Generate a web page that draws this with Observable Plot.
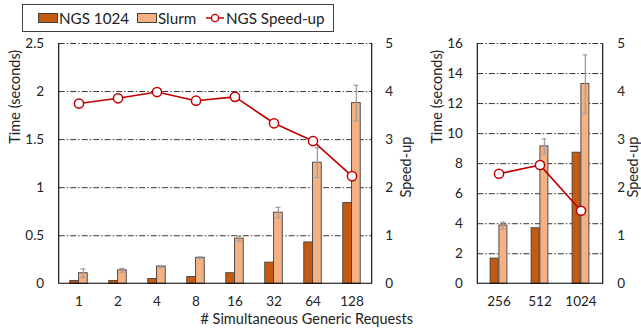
<!DOCTYPE html>
<html><head><meta charset="utf-8">
<script src="https://cdn.jsdelivr.net/npm/d3@7"></script>
<script src="https://cdn.jsdelivr.net/npm/@observablehq/plot@0.6"></script>
<style>
body{margin:0;background:#fff;font-family:Lato,sans-serif;}
#wrap{position:relative;width:641px;height:331px;overflow:hidden;background:#fff;}
#left,#right{position:absolute;top:0;}
#left{left:0}
#right{left:420px}
#legend{position:absolute;left:22px;top:4px;width:312px;height:28px;border:1px solid #404040;box-sizing:border-box;font-size:15.2px;color:#222;z-index:2;background:#fff;}
#legend .it{position:absolute;top:0;height:26px;display:flex;align-items:center;white-space:nowrap;}
#legend .sw{display:inline-block;width:20px;height:10px;border:1px solid #404040;box-sizing:border-box;margin-right:1px;}
</style></head>
<body><div id="wrap">
<div id="legend"></div>
<div id="left"></div>
<div id="right"></div>
</div>
<script>
// ---- data ----
const leftCategories = ["1","2","4","8","16","32","64","128"];
const leftNGS       = [0.03, 0.03, 0.05, 0.07, 0.11, 0.22, 0.43, 0.84];
const leftSlurm     = [0.11, 0.14, 0.18, 0.27, 0.47, 0.74, 1.26, 1.88];
const leftSlurmErr  = [0.045,0.02, 0.01, 0.01, 0.025,0.055,0.155,0.185];
const leftSpeedup   = [3.75, 3.86, 3.99, 3.81, 3.89, 3.34, 2.97, 2.24];

const rightCategories = ["256","512","1024"];
const rightNGS        = [1.68, 3.70, 8.73];
const rightSlurm      = [3.88, 9.15, 13.3];
const rightSlurmErr   = [0.23, 0.5, 1.94];
const rightSpeedup    = [2.29, 2.47, 1.52];

const speedTicks = [0,1,2,3,4,5];
const seriesNames = ["NGS 1024","Slurm","NGS Speed-up"];
const colors = {ngs:"#C55A11", slurm:"#F4B183", line:"#C00000", err:"#A0A0A0", edge:"#404040"};

function table(cats, ngs, slurm, err, speed){
  return cats.map((c,i)=>({cat:c, ngs:ngs[i], slurm:slurm[i], err:err[i], speed:speed[i]}));
}

function panel(o){
  const W=o.width, H=331, mt=43, mb=47.7;
  const bw=(W-o.ml-o.mr)/o.cats.length, half=bw/2, barW=8.8, cap=2.6;
  const k=o.yMax/5;
  const yTicks=d3.range(0, o.yMax+1e-9, o.yStep);
  const grid=yTicks.filter(d=>d>0);
  const fmt=d3.format("~g");
  const axisLines=(index, scales, values, dims)=>{
    const x0=dims.marginLeft, x1=dims.width-dims.marginRight, y0=dims.marginTop, y1=dims.height-dims.marginBottom;
    const p=document.createElementNS("http://www.w3.org/2000/svg","path");
    p.setAttribute("d",`M${x0},${y0}V${y1}H${x1}V${y0}`);
    p.setAttribute("fill","none"); p.setAttribute("stroke","#000"); p.setAttribute("stroke-width","1.1");
    return p;
  };
  const marks=[
    Plot.ruleY(grid,{stroke:"#000",strokeWidth:0.8,strokeDasharray:"6,2,1.5,2"}),
    Plot.barY(o.data,{x:"cat",y:"ngs",fill:colors.ngs,stroke:colors.edge,strokeWidth:0.9,insetLeft:half-barW,insetRight:half}),
    Plot.barY(o.data,{x:"cat",y:"slurm",fill:colors.slurm,stroke:colors.edge,strokeWidth:0.9,insetLeft:half,insetRight:half-barW}),
    Plot.ruleX(o.data,{x:"cat",y1:d=>d.slurm-d.err,y2:d=>d.slurm+d.err,dx:barW/2,stroke:colors.err,strokeWidth:1.4}),
    Plot.tickY(o.data,{x:"cat",y:d=>d.slurm+d.err,insetLeft:half+barW/2-cap,insetRight:half-barW/2-cap,stroke:colors.err,strokeWidth:1.2}),
    Plot.tickY(o.data,{x:"cat",y:d=>d.slurm-d.err,insetLeft:half+barW/2-cap,insetRight:half-barW/2-cap,stroke:colors.err,strokeWidth:1.2}),
    Plot.lineY(o.data,{x:"cat",y:d=>d.speed*k,stroke:colors.line,strokeWidth:1.6}),
    Plot.dot(o.data,{x:"cat",y:d=>d.speed*k,r:4.6,fill:"white",stroke:colors.line,strokeWidth:1.5}),
    axisLines,
    Plot.axisY({ticks:yTicks,tickFormat:fmt,tickSize:0,tickPadding:15,label:null}),
    Plot.axisY({anchor:"right",ticks:speedTicks.map(s=>s*k),tickFormat:d=>fmt(Math.round(d/k)),tickSize:0,tickPadding:o.rPad,label:null}),
    Plot.axisX({tickSize:0,tickPadding:13,label:null}),
    Plot.text(["Time (seconds)"],{frameAnchor:"left",rotate:-90,dx:o.tDx,dy:-20,fontSize:14.5}),
    Plot.text(["Speed-up"],{frameAnchor:"right",rotate:-90,dx:o.sDx,dy:-27,fontSize:14.5})
  ];
  if(o.xLabel) marks.push(Plot.text([o.xLabel],{frameAnchor:"bottom",dx:91,dy:40,fontSize:14.5}));
  return Plot.plot({
    width:W,height:H,marginLeft:o.ml,marginRight:o.mr,marginTop:mt,marginBottom:mb,
    style:{fontFamily:"Lato, sans-serif",fontSize:"13.5px",color:"#222",background:"transparent",overflow:"visible"},
    x:{type:"band",domain:o.cats,padding:0},
    y:{domain:[0,o.yMax]},
    marks
  });
}

document.getElementById("left").append(panel({
  cats:leftCategories, data:table(leftCategories,leftNGS,leftSlurm,leftSlurmErr,leftSpeedup),
  yMax:2.5, yStep:0.5, width:420, ml:58.7, mr:48.3, rPad:13, tDx:-44, sDx:34,
  xLabel:"# Simultaneous Generic Requests"
}));
document.getElementById("right").append(panel({
  cats:rightCategories, data:table(rightCategories,rightNGS,rightSlurm,rightSlurmErr,rightSpeedup),
  yMax:16, yStep:2, width:221, ml:57.3, mr:38.3, rPad:14, tDx:-40, sDx:30
}));

// legend
const lg=document.getElementById("legend");
const items=[
  {left:15, html:`<span class="sw" style="background:${colors.ngs}"></span>${seriesNames[0]}`},
  {left:114, html:`<span class="sw" style="background:${colors.slurm}"></span>${seriesNames[1]}`},
  {left:183, html:`<svg width="18" height="12" style="margin-right:2px"><line x1="0" y1="6" x2="18" y2="6" stroke="${colors.line}" stroke-width="1.5"/><circle cx="9" cy="6" r="3.6" fill="white" stroke="${colors.line}" stroke-width="1.4"/></svg>${seriesNames[2]}`}
];
for(const it of items){const d=document.createElement("div");d.className="it";d.style.left=it.left+"px";d.innerHTML=it.html;lg.append(d);}
</script>
</body></html>
